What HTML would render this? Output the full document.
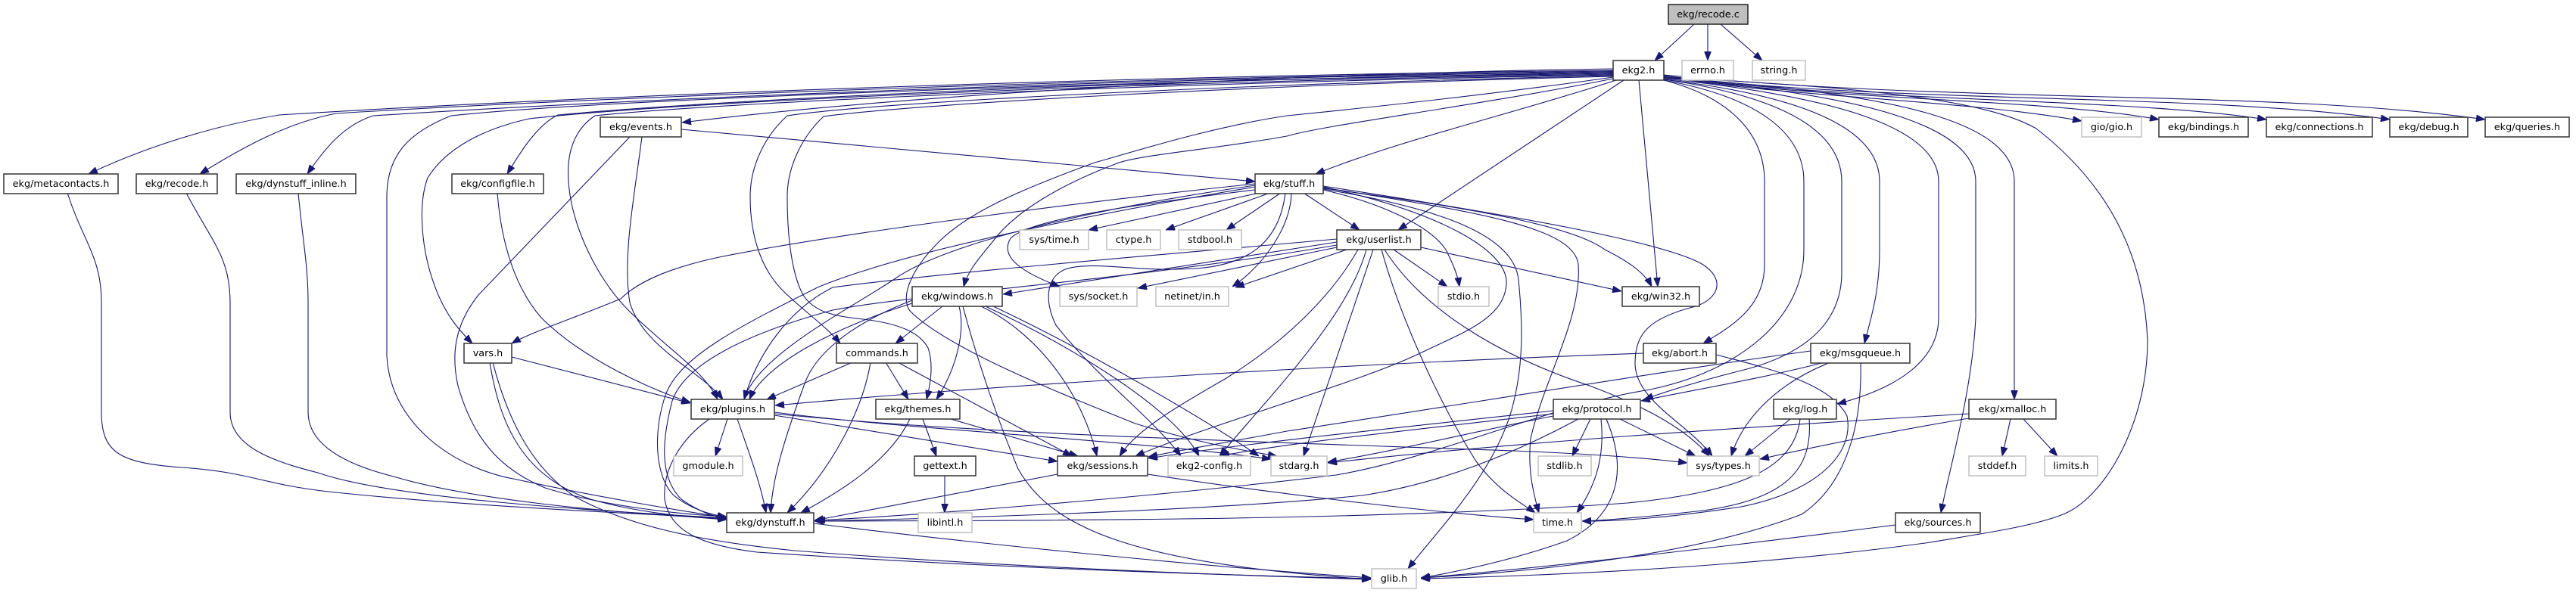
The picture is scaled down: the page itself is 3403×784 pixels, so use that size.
<!DOCTYPE html>
<html>
<head>
<meta charset="utf-8">
<style>
html,body{margin:0;padding:0;background:#fff;}
svg{display:block;}
.e{fill:none;stroke:#191970;stroke-width:1.1;}
.n{fill:#fff;stroke:#333;stroke-width:1.5;}
.g{fill:#fff;stroke:#c0c0c0;stroke-width:1.5;}
.r{fill:#bfbfbf;stroke:#222;stroke-width:1.5;}
text{font-family:"DejaVu Sans","Liberation Sans",sans-serif;font-size:12.8px;fill:#000;text-anchor:middle;}
</style>
</head>
<body>
<svg width="3403" height="784" viewBox="0 0 3403 784" xmlns="http://www.w3.org/2000/svg">
<defs>
<marker id="a" markerWidth="12" markerHeight="9" refX="12" refY="4.5" orient="auto" markerUnits="userSpaceOnUse">
<path d="M0,0 L12,4.5 L0,9 z" fill="#191970" stroke="#191970" stroke-width="0.8"/>
</marker>
</defs>
<rect width="3403" height="784" fill="#fff"/>
<g class="e" marker-end="url(#a)">
<path class="e" marker-end="url(#a)" d="M2238,32 L2186,80"/>
<path class="e" marker-end="url(#a)" d="M2256,32 L2256,80"/>
<path class="e" marker-end="url(#a)" d="M2273,32 L2328,80"/>
<!-- ekg2.h left bundle -->
<path class="e" marker-end="url(#a)" d="M2131,91 C1700,97 1200,125 901,162"/>
<path class="e" marker-end="url(#a)" d="M2131,93 C1500,100 800,125 369,152 C270,168 180,200 117,230"/>
<path class="e" marker-end="url(#a)" d="M2131,94 C1500,102 800,128 444,150 C380,162 320,195 264,230"/>
<path class="e" marker-end="url(#a)" d="M2131,95 C1500,103 850,130 493,153 C455,165 430,195 406,230"/>
<path class="e" marker-end="url(#a)" d="M2131,96 C1500,105 950,132 737,152 C710,165 688,200 670,230"/>
<path class="e" marker-end="url(#a)" d="M2131,97 C1500,106 800,131 596,153 C540,175 511,205 511,260 L511,470 C515,560 600,620 683,634 C780,655 900,676 960,684"/>
<path class="e" marker-end="url(#a)" d="M2131,98 C1500,108 900,134 699,157 C640,170 590,195 565,235 C552,270 556,330 575,380 C590,420 610,440 624,454"/>
<path class="e" marker-end="url(#a)" d="M2131,99 C1500,110 950,136 786,153 C760,170 748,200 751,240 C755,300 790,370 830,410 C880,460 930,490 948,528"/>
<path class="e" marker-end="url(#a)" d="M2131,100 C1600,112 1150,136 1040,153 C1010,180 991,220 991,260 C991,320 1010,360 1034,384 C1060,410 1090,430 1110,454"/>
<path class="e" marker-end="url(#a)" d="M2131,101 C1600,114 1200,139 1088,154 C1060,180 1040,220 1040,260 C1040,330 1050,370 1061,390 C1075,412 1100,418 1140,422 C1190,428 1215,440 1226,460 C1233,480 1230,505 1224,528"/>
<path class="e" marker-end="url(#a)" d="M2131,102 C1950,128 1750,148 1700,153 C1600,168 1500,200 1446,215 C1350,250 1280,280 1240,320 C1200,360 1190,395 1202,411 C1250,460 1400,520 1500,560 C1580,585 1640,595 1687,603"/>
<path class="e" marker-end="url(#a)" d="M2131,104 C1950,140 1750,165 1700,180 C1600,198 1500,205 1473,217 C1400,245 1340,280 1311,320 C1290,345 1278,360 1273,379"/>
<path class="e" marker-end="url(#a)" d="M2135,106 C2000,150 1850,185 1738,230"/>
<path class="e" marker-end="url(#a)" d="M2145,106 L1847,304"/>
<path class="e" marker-end="url(#a)" d="M2165,106 L2190,379"/>
<!-- ekg2.h right -->
<path class="e" marker-end="url(#a)" d="M2198,101 C2350,128 2600,132 2750,160"/>
<path class="e" marker-end="url(#a)" d="M2198,101 C2400,132 2700,130 2852,158"/>
<path class="e" marker-end="url(#a)" d="M2198,100 C2450,136 2800,128 2994,158"/>
<path class="e" marker-end="url(#a)" d="M2198,100 C2500,138 2900,122 3157,158"/>
<path class="e" marker-end="url(#a)" d="M2198,99 C2600,138 3000,118 3283,158"/>
<path class="e" marker-end="url(#a)" d="M2198,106 C2290,130 2331,180 2331,240 L2331,350 C2331,405 2290,430 2250,454"/>
<path class="e" marker-end="url(#a)" d="M2198,106 C2330,130 2383,180 2383,240 L2383,330 C2383,420 2300,490 2180,515 C2050,535 1900,605 1765,628 C1500,660 1200,682 1078,688"/>
<path class="e" marker-end="url(#a)" d="M2198,105 C2370,130 2433,180 2433,240 L2433,360 C2433,430 2380,470 2300,490 C2240,505 2200,518 2172,528"/>
<path class="e" marker-end="url(#a)" d="M2198,105 C2410,130 2483,180 2483,240 L2483,330 C2483,390 2470,425 2463,454"/>
<path class="e" marker-end="url(#a)" d="M2198,104 C2430,128 2561,170 2561,240 L2561,420 C2561,480 2500,515 2427,534"/>
<path class="e" marker-end="url(#a)" d="M2198,103 C2460,125 2610,165 2610,240 L2610,420 C2605,520 2575,620 2564,678"/>
<path class="e" marker-end="url(#a)" d="M2198,103 C2500,122 2661,160 2661,240 L2661,528"/>
<path class="e" marker-end="url(#a)" d="M2198,102 C2450,115 2620,130 2690,170 C2780,240 2832,330 2837,450 C2837,560 2780,660 2723,681 C2680,697 2620,705 2550,717 C2350,745 2100,760 1877,765"/>
<!-- events.h -->
<path class="e" marker-end="url(#a)" d="M900,171 L1658,240"/>
<path class="e" marker-end="url(#a)" d="M848,181 C838,260 822,340 832,400 C850,460 925,490 955,528"/>
<path class="e" marker-end="url(#a)" d="M832,181 L632,390 C600,430 596,470 605,510 C625,580 660,620 720,645 C800,670 900,680 960,683"/>
<!-- row 3 to dynstuff -->
<path class="e" marker-end="url(#a)" d="M89,255 C110,320 134,340 134,400 L134,545 C134,600 160,612 240,618 C330,624 345,640 434,650 C600,668 850,680 960,685"/>
<path class="e" marker-end="url(#a)" d="M246,255 C280,320 304,340 304,400 L304,545 C304,590 360,610 420,625 C520,660 800,676 960,685"/>
<path class="e" marker-end="url(#a)" d="M394,255 C400,320 407,350 407,400 L407,545 C407,590 460,615 520,630 C620,660 800,678 960,686"/>
<path class="e" marker-end="url(#a)" d="M657,255 C662,320 680,380 715,420 C770,475 860,515 912,532"/>
<!-- vars.h -->
<path class="e" marker-end="url(#a)" d="M676,472 L912,533"/>
<path class="e" marker-end="url(#a)" d="M647,479 C660,560 690,630 780,660 C850,680 920,684 960,687"/>
<path class="e" marker-end="url(#a)" d="M651,479 C672,560 705,620 760,657 C830,695 920,715 1050,728 C1300,748 1600,760 1811,766"/>
<!-- stuff.h -->
<path class="e" marker-end="url(#a)" d="M1664,255 L1438,304"/>
<path class="e" marker-end="url(#a)" d="M1678,255 L1540,304"/>
<path class="e" marker-end="url(#a)" d="M1692,255 L1620,304"/>
<path class="e" marker-end="url(#a)" d="M1722,255 L1796,304"/>
<path class="e" marker-end="url(#a)" d="M1658,251 C1500,270 1360,290 1335,315 C1320,340 1350,360 1400,379"/>
<path class="e" marker-end="url(#a)" d="M1706,255 C1705,300 1670,350 1628,379"/>
<path class="e" marker-end="url(#a)" d="M1748,251 C1830,270 1890,300 1910,330 C1920,350 1926,365 1928,379"/>
<path class="e" marker-end="url(#a)" d="M1748,249 C1950,275 2080,300 2120,330 C2160,350 2175,365 2182,379"/>
<path class="e" marker-end="url(#a)" d="M1658,243 C1400,270 1100,310 950,340 C880,355 840,375 820,395 C760,420 700,440 676,454"/>
<path class="e" marker-end="url(#a)" d="M1658,245 C1450,275 1250,320 1180,370 C1120,410 1000,470 983,528"/>
<path class="e" marker-end="url(#a)" d="M1658,247 C1450,282 1200,330 1080,380 C980,430 900,470 880,520 C862,570 865,630 890,655 C915,675 940,680 960,684"/>
<path class="e" marker-end="url(#a)" d="M1748,247 C1900,280 1990,330 1990,373 C1990,420 1932,440 1880,465 C1800,505 1600,560 1500,603"/>
<path class="e" marker-end="url(#a)" d="M1748,248 C1950,280 2080,300 2085,350 C2090,420 2040,500 2022,580 C2018,620 2025,650 2033,678"/>
<path class="e" marker-end="url(#a)" d="M1748,246 C2000,285 2200,320 2250,350 C2280,370 2270,395 2240,405 C2180,420 2160,440 2160,480 C2160,530 2230,560 2262,603"/>
<path class="e" marker-end="url(#a)" d="M1748,250 C1900,275 2000,310 2006,370 C2012,430 2012,480 2000,530 C1980,620 1900,700 1860,752"/>
<path class="e" marker-end="url(#a)" d="M1698,255 C1690,320 1650,350 1580,355 C1500,360 1450,345 1410,355 C1380,365 1380,400 1395,430 C1450,500 1520,550 1560,603"/>
<!-- userlist.h -->
<path class="e" marker-end="url(#a)" d="M1766,320 C1600,345 1450,370 1325,389"/>
<path class="e" marker-end="url(#a)" d="M1766,327 L1503,381"/>
<path class="e" marker-end="url(#a)" d="M1779,330 L1632,380"/>
<path class="e" marker-end="url(#a)" d="M1841,330 L1912,379"/>
<path class="e" marker-end="url(#a)" d="M1877,327 L2142,385"/>
<path class="e" marker-end="url(#a)" d="M1766,316 C1500,340 1250,360 1100,380 C1040,410 1000,470 983,528"/>
<path class="e" marker-end="url(#a)" d="M1794,330 C1760,390 1700,450 1620,500 C1550,540 1500,570 1479,603"/>
<path class="e" marker-end="url(#a)" d="M1805,330 C1780,420 1680,520 1611,603"/>
<path class="e" marker-end="url(#a)" d="M1814,330 L1722,603"/>
<path class="e" marker-end="url(#a)" d="M1825,330 C1850,420 1900,530 1950,610 C1980,650 2010,665 2028,678"/>
<path class="e" marker-end="url(#a)" d="M1829,330 C1880,410 1980,470 2100,510 C2180,540 2230,570 2258,603"/>
<path class="e" marker-end="url(#a)" d="M1766,324 C1500,370 1200,390 1100,410 C990,440 905,480 888,530 C875,580 870,630 900,660 C925,678 945,683 960,686"/>
<!-- windows.h -->
<path class="e" marker-end="url(#a)" d="M1245,405 L1183,454"/>
<path class="e" marker-end="url(#a)" d="M1267,405 C1276,440 1262,490 1237,528"/>
<path class="e" marker-end="url(#a)" d="M1272,405 C1292,480 1320,560 1345,620 C1390,700 1500,745 1811,766"/>
<path class="e" marker-end="url(#a)" d="M1296,405 C1370,440 1430,520 1449,603"/>
<path class="e" marker-end="url(#a)" d="M1302,405 C1420,460 1550,540 1584,603"/>
<path class="e" marker-end="url(#a)" d="M1205,401 C1110,430 1010,480 990,528"/>
<path class="e" marker-end="url(#a)" d="M1205,397 C1120,430 1075,470 1062,510 C1040,570 1020,630 1018,678"/>
<path class="e" marker-end="url(#a)" d="M1310,404 C1450,470 1600,560 1663,603"/>
<!-- commands.h -->
<path class="e" marker-end="url(#a)" d="M1126,479 L1013,528"/>
<path class="e" marker-end="url(#a)" d="M1150,479 C1140,540 1100,620 1040,678"/>
<path class="e" marker-end="url(#a)" d="M1170,479 L1200,528"/>
<path class="e" marker-end="url(#a)" d="M1186,479 L1416,603"/>
<!-- themes.h -->
<path class="e" marker-end="url(#a)" d="M1219,554 L1237,603"/>
<path class="e" marker-end="url(#a)" d="M1202,554 C1175,610 1110,650 1058,678"/>
<path class="e" marker-end="url(#a)" d="M1256,554 L1424,603"/>
<!-- plugins.h -->
<path class="e" marker-end="url(#a)" d="M961,554 L945,603"/>
<path class="e" marker-end="url(#a)" d="M974,554 C990,600 1005,640 1012,678"/>
<path class="e" marker-end="url(#a)" d="M1023,549 L1397,610"/>
<path class="e" marker-end="url(#a)" d="M1023,545 C1200,568 1500,582 1679,607"/>
<path class="e" marker-end="url(#a)" d="M1023,547 C1300,575 1700,585 2000,596 C2100,600 2180,606 2229,612"/>
<path class="e" marker-end="url(#a)" d="M937,554 C900,580 875,620 878,660 C885,700 920,720 1000,730 C1300,750 1600,760 1811,765"/>
<!-- gettext, sessions, dynstuff -->
<path class="e" marker-end="url(#a)" d="M1248,629 L1248,678"/>
<path class="e" marker-end="url(#a)" d="M1397,627 L1076,688"/>
<path class="e" marker-end="url(#a)" d="M1516,627 C1700,655 1900,678 2026,687"/>
<path class="e" marker-end="url(#a)" d="M1075,692 C1300,720 1600,750 1811,764"/>
<!-- abort.h -->
<path class="e" marker-end="url(#a)" d="M2171,467 C1800,480 1300,510 1024,536"/>
<path class="e" marker-end="url(#a)" d="M2267,469 C2350,490 2420,510 2440,550 C2450,600 2400,650 2300,670 C2200,685 2140,689 2090,689"/>
<!-- msgqueue.h -->
<path class="e" marker-end="url(#a)" d="M2410,479 C2330,500 2240,515 2168,530"/>
<path class="e" marker-end="url(#a)" d="M2392,464 C2200,490 1900,540 1700,570 C1620,585 1560,595 1517,604"/>
<path class="e" marker-end="url(#a)" d="M2418,479 C2340,510 2300,560 2287,603"/>
<path class="e" marker-end="url(#a)" d="M2458,479 C2460,560 2440,640 2380,680 C2250,730 2050,755 1877,764"/>
<!-- protocol.h -->
<path class="e" marker-end="url(#a)" d="M2052,543 C1900,560 1650,585 1517,606"/>
<path class="e" marker-end="url(#a)" d="M2052,547 C1900,565 1700,585 1612,603"/>
<path class="e" marker-end="url(#a)" d="M2052,550 C1950,570 1850,595 1754,611"/>
<path class="e" marker-end="url(#a)" d="M2085,554 C2000,600 1900,640 1800,655 C1600,675 1300,684 1076,689"/>
<path class="e" marker-end="url(#a)" d="M2101,554 L2077,603"/>
<path class="e" marker-end="url(#a)" d="M2115,554 C2120,600 2110,640 2083,678"/>
<path class="e" marker-end="url(#a)" d="M2122,554 C2150,620 2140,680 2070,715 C2000,740 1930,755 1877,764"/>
<path class="e" marker-end="url(#a)" d="M2140,554 L2240,603"/>
<!-- log.h -->
<path class="e" marker-end="url(#a)" d="M2365,554 L2305,603"/>
<path class="e" marker-end="url(#a)" d="M2378,554 C2370,620 2300,650 2150,665 C1800,690 1300,688 1076,689"/>
<path class="e" marker-end="url(#a)" d="M2390,554 C2395,620 2360,660 2250,675 C2170,684 2120,688 2090,689"/>
<!-- xmalloc.h -->
<path class="e" marker-end="url(#a)" d="M2601,547 C2300,565 2000,585 1754,612"/>
<path class="e" marker-end="url(#a)" d="M2601,553 C2500,570 2400,590 2325,607"/>
<path class="e" marker-end="url(#a)" d="M2656,554 L2645,603"/>
<path class="e" marker-end="url(#a)" d="M2673,554 L2718,603"/>
<!-- sources.h -->
<path class="e" marker-end="url(#a)" d="M2504,694 C2300,720 2050,750 1877,764"/>
</g>

<!-- nodes -->
<g>
<rect class="r" x="2204" y="6" width="105" height="26"/><text x="2256.5" y="23">ekg/recode.c</text>

<rect class="n" x="2131" y="80" width="67" height="26"/><text x="2164.5" y="97">ekg2.h</text>
<rect class="g" x="2222" y="80" width="68" height="26"/><text x="2256" y="97">errno.h</text>
<rect class="g" x="2315" y="80" width="70" height="26"/><text x="2350" y="97">string.h</text>

<rect class="n" x="793" y="155" width="107" height="26"/><text x="846.5" y="172">ekg/events.h</text>
<rect class="g" x="2750" y="155" width="79" height="26"/><text x="2789.5" y="172">gio/gio.h</text>
<rect class="n" x="2852" y="155" width="118" height="26"/><text x="2911" y="172">ekg/bindings.h</text>
<rect class="n" x="2994" y="155" width="140" height="26"/><text x="3064" y="172">ekg/connections.h</text>
<rect class="n" x="3157" y="155" width="103" height="26"/><text x="3208.5" y="172">ekg/debug.h</text>
<rect class="n" x="3283" y="155" width="111" height="26"/><text x="3338.5" y="172">ekg/queries.h</text>

<rect class="n" x="5" y="230" width="151" height="26"/><text x="80.5" y="247">ekg/metacontacts.h</text>
<rect class="n" x="180" y="230" width="107" height="26"/><text x="233.5" y="247">ekg/recode.h</text>
<rect class="n" x="312" y="230" width="158" height="26"/><text x="391" y="247">ekg/dynstuff_inline.h</text>
<rect class="n" x="597" y="230" width="121" height="26"/><text x="657.5" y="247">ekg/configfile.h</text>
<rect class="n" x="1658" y="230" width="90" height="26"/><text x="1703" y="247">ekg/stuff.h</text>

<rect class="g" x="1347" y="304" width="91" height="26"/><text x="1392.5" y="321">sys/time.h</text>
<rect class="g" x="1462" y="304" width="71" height="26"/><text x="1497.5" y="321">ctype.h</text>
<rect class="g" x="1557" y="304" width="83" height="26"/><text x="1598.5" y="321">stdbool.h</text>
<rect class="n" x="1766" y="304" width="111" height="26"/><text x="1821.5" y="321">ekg/userlist.h</text>

<rect class="n" x="1205" y="379" width="119" height="26"/><text x="1264.5" y="396">ekg/windows.h</text>
<rect class="g" x="1400" y="379" width="102" height="26"/><text x="1451" y="396">sys/socket.h</text>
<rect class="g" x="1527" y="379" width="96" height="26"/><text x="1575" y="396">netinet/in.h</text>
<rect class="g" x="1900" y="379" width="67" height="26"/><text x="1933.5" y="396">stdio.h</text>
<rect class="n" x="2143" y="379" width="102" height="26"/><text x="2194" y="396">ekg/win32.h</text>

<rect class="n" x="613" y="454" width="63" height="26"/><text x="644.5" y="471">vars.h</text>
<rect class="n" x="1105" y="454" width="107" height="26"/><text x="1158.5" y="471">commands.h</text>
<rect class="n" x="2171" y="454" width="96" height="26"/><text x="2219" y="471">ekg/abort.h</text>
<rect class="n" x="2392" y="454" width="131" height="26"/><text x="2457.5" y="471">ekg/msgqueue.h</text>

<rect class="n" x="913" y="528" width="110" height="26"/><text x="968" y="545">ekg/plugins.h</text>
<rect class="n" x="1157" y="528" width="111" height="26"/><text x="1212.5" y="545">ekg/themes.h</text>
<rect class="n" x="2052" y="528" width="115" height="26"/><text x="2109.5" y="545">ekg/protocol.h</text>
<rect class="n" x="2343" y="528" width="83" height="26"/><text x="2384.5" y="545">ekg/log.h</text>
<rect class="n" x="2601" y="528" width="115" height="26"/><text x="2658.5" y="545">ekg/xmalloc.h</text>

<rect class="g" x="890" y="603" width="91" height="26"/><text x="935.5" y="620">gmodule.h</text>
<rect class="n" x="1208" y="603" width="81" height="26"/><text x="1248.5" y="620">gettext.h</text>
<rect class="n" x="1397" y="603" width="119" height="26"/><text x="1456.5" y="620">ekg/sessions.h</text>
<rect class="g" x="1543" y="603" width="109" height="26"/><text x="1597.5" y="620">ekg2-config.h</text>
<rect class="g" x="1679" y="603" width="74" height="26"/><text x="1716" y="620">stdarg.h</text>
<rect class="g" x="2032" y="603" width="70" height="26"/><text x="2067" y="620">stdlib.h</text>
<rect class="g" x="2229" y="603" width="95" height="26"/><text x="2276.5" y="620">sys/types.h</text>
<rect class="g" x="2601" y="603" width="75" height="26"/><text x="2638.5" y="620">stddef.h</text>
<rect class="g" x="2701" y="603" width="70" height="26"/><text x="2736" y="620">limits.h</text>

<rect class="n" x="960" y="678" width="115" height="26"/><text x="1017.5" y="695">ekg/dynstuff.h</text>
<rect class="g" x="1213" y="678" width="71" height="26"/><text x="1248.5" y="695">libintl.h</text>
<rect class="g" x="2026" y="678" width="63" height="26"/><text x="2057.5" y="695">time.h</text>
<rect class="n" x="2504" y="678" width="112" height="26"/><text x="2560" y="695">ekg/sources.h</text>

<rect class="g" x="1812" y="752" width="59" height="26"/><text x="1841.5" y="769">glib.h</text>
</g>
</svg>
</body>
</html>
